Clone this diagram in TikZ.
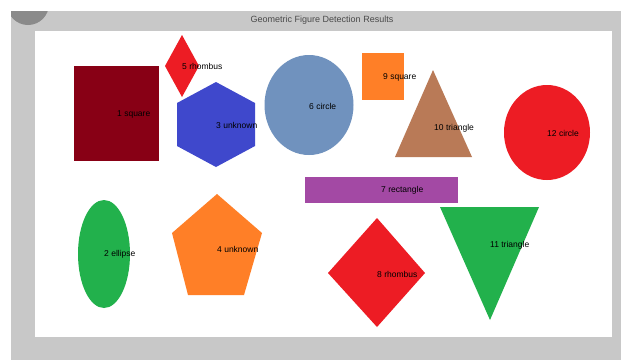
\documentclass[tikz,border=0pt]{standalone}
\usepackage{fontspec}
\setmainfont{Liberation Sans}
\definecolor{bggray}{HTML}{C8C8C8}
\definecolor{blobgray}{HTML}{8A8A8A}
\definecolor{titlegray}{HTML}{4A4A4A}
\definecolor{pdarkred}{HTML}{880015}
\definecolor{pred}{HTML}{ED1C24}
\definecolor{porange}{HTML}{FF7F27}
\definecolor{pgreen}{HTML}{22B14C}
\definecolor{pbrown}{HTML}{B97A57}
\definecolor{ppurple}{HTML}{A349A4}
\definecolor{pindigo}{HTML}{3F48CC}
\definecolor{pbluegray}{HTML}{7092BE}
\tikzset{
  lbl/.style={anchor=west, inner sep=0pt, font=\fontsize{8.5}{9}\selectfont, text=black},
  ttl/.style={inner sep=0pt, font=\fontsize{9}{10}\selectfont, text=titlegray}
}
\begin{document}
\begin{tikzpicture}[x=1pt,y=-1pt]
\useasboundingbox (0,0) rectangle (621,360);
\fill[white] (0,0) rectangle (621,360);
\fill[bggray] (11,11) rectangle (621,360);
\begin{scope}
  \clip (11,11) rectangle (621,360);
  \fill[blobgray] (28,4) circle[radius=21];
\end{scope}
\fill[white] (35,31) rectangle (612,337);
\node[ttl] (title) at (322,20) {Geometric Figure Detection Results};

% 1 square
\fill[pdarkred] (74,66) rectangle (159,161);
% 5 rhombus
\fill[pred] (182,35) -- (199,66) -- (182,97) -- (165,66) -- cycle;
% 3 hexagon
\fill[pindigo] (216,82) -- (255,103) -- (255,146) -- (216,167) -- (177,146) -- (177,103) -- cycle;
% 6 circle
\fill[pbluegray] (309,105) ellipse[x radius=44.5, y radius=50];
% 9 square
\fill[porange] (362,53) rectangle (404,100);
% 10 triangle
\fill[pbrown] (433,70) -- (472,157) -- (395,157) -- cycle;
% 12 circle
\fill[pred] (547,132.5) ellipse[x radius=43, y radius=47.5];
% 7 rectangle
\fill[ppurple] (305,177) rectangle (458,203);
% 2 ellipse
\fill[pgreen] (104,254) ellipse[x radius=26, y radius=54];
% 4 pentagon
\fill[porange] (217,194) -- (262,233) -- (244,295) -- (188,295) -- (172,233) -- cycle;
% 8 rhombus
\fill[pred] (377,218) -- (425,273) -- (377,327) -- (328,273) -- cycle;
% 11 triangle
\fill[pgreen] (440,207) -- (539,207) -- (490,320) -- cycle;

\node[lbl] (l1) at (117,114) {1 square};
\node[lbl] (l2) at (104,254) {2 ellipse};
\node[lbl] (l3) at (216,125) {3 unknown};
\node[lbl] (l4) at (217,249) {4 unknown};
\node[lbl] (l5) at (182,66) {5 rhombus};
\node[lbl] (l6) at (309,106) {6 circle};
\node[lbl] (l7) at (381,190) {7 rectangle};
\node[lbl] (l8) at (377,274) {8 rhombus};
\node[lbl] (l9) at (383,77) {9 square};
\node[lbl] (l10) at (434,128) {10 triangle};
\node[lbl] (l11) at (490,245) {11 triangle};
\node[lbl] (l12) at (547,133) {12 circle};
\end{tikzpicture}
\end{document}
